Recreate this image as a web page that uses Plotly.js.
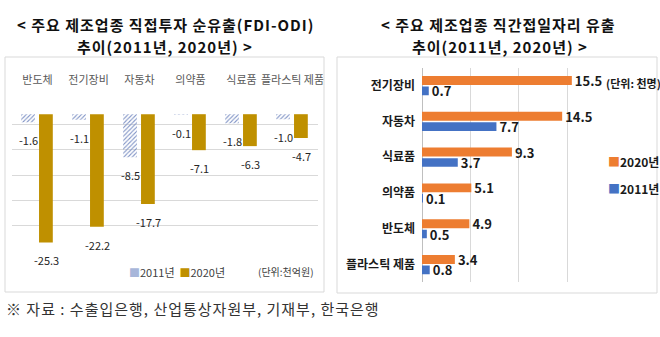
<!DOCTYPE html>
<html>
<head>
<meta charset="utf-8">
<script src="https://cdn.plot.ly/plotly-3.0.1.min.js"></script>
<style>
html,body{margin:0;padding:0;background:#fff;}
#chart{width:660px;height:337px;}
</style>
</head>
<body>
<div id="chart"></div>
<script>
// ---- Data ----
const fdiCategories = ['반도체', '전기장비', '자동차', '의약품', '식료품', '플라스틱 제품'];
const fdi2011 = [-1.6, -1.1, -8.5, -0.1, -1.8, -1.0];
const fdi2020 = [-25.3, -22.2, -17.7, -7.1, -6.3, -4.7];

const jobCategories = ['전기장비', '자동차', '식료품', '의약품', '반도체', '플라스틱 제품'];
const jobs2011 = [0.7, 7.7, 3.7, 0.1, 0.5, 0.8];
const jobs2020 = [15.5, 14.5, 9.3, 5.1, 4.9, 3.4];

const seriesNames = ['2011년', '2020년'];
const leftTitle = ['< 주요 제조업종 직접투자 순유출(FDI-ODI)', '추이(2011년, 2020년) >'];
const rightTitle = ['< 주요 제조업종 직간접일자리 유출', '추이(2011년, 2020년) >'];
const leftUnit = '(단위:천억원)';
const rightUnit = '(단위: 천명)';
const sourceNote = '※ 자료 : 수출입은행, 산업통상자원부, 기재부, 한국은행';

// ---- Layout helpers ----
const W = 660, H = 337;
const px = v => v / W;
const py = v => 1 - v / H;
const KR = '"Noto Sans CJK KR", "Noto Sans", sans-serif';
const NUM = '"Liberation Sans Narrow", "Noto Sans CJK KR", sans-serif';

const c2011L = '#a7b6da', c2011Lfg = '#8194c6';
const c2020L = '#bf9000';
const c2011R = '#4472c4', c2020R = '#ed7d31';

const traces = [
  {
    type: 'bar', x: fdiCategories, y: fdi2011, name: seriesNames[0],
    xaxis: 'x', yaxis: 'y', offset: -0.32, width: 0.27,
    marker: {color: c2011L, pattern: {shape: '/', fgcolor: c2011Lfg, size: 3, solidity: 0.35}},
    showlegend: false, hoverinfo: 'skip'
  },
  {
    type: 'bar', x: fdiCategories, y: fdi2020, name: seriesNames[1],
    xaxis: 'x', yaxis: 'y', offset: 0.03, width: 0.27,
    marker: {color: c2020L},
    showlegend: false, hoverinfo: 'skip'
  },
  {
    type: 'bar', orientation: 'h', y: jobCategories, x: jobs2020, name: seriesNames[1],
    xaxis: 'x2', yaxis: 'y2', offset: -0.265, width: 0.25,
    marker: {color: c2020R},
    text: jobs2020.map(v => v.toFixed(1)), textposition: 'outside', cliponaxis: false,
    constraintext: 'none',
    textfont: {family: NUM, size: 13, color: '#1a1a1a', weight: 'bold'},
    showlegend: false, hoverinfo: 'skip'
  },
  {
    type: 'bar', orientation: 'h', y: jobCategories, x: jobs2011, name: seriesNames[0],
    xaxis: 'x2', yaxis: 'y2', offset: 0.03, width: 0.24,
    marker: {color: c2011R},
    text: jobs2011.map(v => v.toFixed(1)), textposition: 'outside', cliponaxis: false,
    constraintext: 'none',
    textfont: {family: NUM, size: 13, color: '#1a1a1a', weight: 'bold'},
    showlegend: false, hoverinfo: 'skip'
  }
];

const annotations = [];
// left data labels
fdiCategories.forEach((c, i) => {
  annotations.push({x: c, y: fdi2011[i], xref: 'x', yref: 'y', text: fdi2011[i].toFixed(1),
    showarrow: false, xshift: -9, yshift: -18, font: {family: NUM, size: 11, color: '#262626'}});
  annotations.push({x: c, y: fdi2020[i], xref: 'x', yref: 'y', text: fdi2020[i].toFixed(1),
    showarrow: false, xshift: 9, yshift: -18, font: {family: NUM, size: 11, color: '#262626'}});
});
// titles
const titleFont = {family: KR, size: 15, color: '#111', weight: 'bold'};
const ls = t => '<span style="letter-spacing:1px">' + t + '</span>';
annotations.push({xref: 'paper', yref: 'paper', x: px(165), y: py(24), text: ls(leftTitle[0]), showarrow: false, font: titleFont, xanchor: 'center', yanchor: 'middle'});
annotations.push({xref: 'paper', yref: 'paper', x: px(165), y: py(46), text: ls(leftTitle[1]), showarrow: false, font: titleFont, xanchor: 'center', yanchor: 'middle'});
annotations.push({xref: 'paper', yref: 'paper', x: px(498), y: py(24), text: ls(rightTitle[0]), showarrow: false, font: titleFont, xanchor: 'center', yanchor: 'middle'});
annotations.push({xref: 'paper', yref: 'paper', x: px(500), y: py(46), text: ls(rightTitle[1]), showarrow: false, font: titleFont, xanchor: 'center', yanchor: 'middle'});
// left legend & unit
annotations.push({xref: 'paper', yref: 'paper', x: px(127), y: py(272), xanchor: 'left', yanchor: 'middle', showarrow: false,
  text: '<span style="color:' + c2011L + '">■</span>' + seriesNames[0] + '  <span style="color:' + c2020L + '">■</span>' + seriesNames[1],
  font: {family: KR, size: 11, color: '#404040'}});
annotations.push({xref: 'paper', yref: 'paper', x: px(316), y: py(271), xanchor: 'right', yanchor: 'middle', showarrow: false,
  text: leftUnit, font: {family: KR, size: 10, color: '#404040'}});
// right legend & unit
annotations.push({xref: 'paper', yref: 'paper', x: px(606), y: py(162), xanchor: 'left', yanchor: 'middle', showarrow: false,
  text: '<span style="color:' + c2020R + '">■</span>' + seriesNames[1], font: {family: KR, size: 12, color: '#1a1a1a', weight: 'bold'}});
annotations.push({xref: 'paper', yref: 'paper', x: px(606), y: py(188), xanchor: 'left', yanchor: 'middle', showarrow: false,
  text: '<span style="color:' + c2011R + '">■</span>' + seriesNames[0], font: {family: KR, size: 12, color: '#1a1a1a', weight: 'bold'}});
annotations.push({xref: 'paper', yref: 'paper', x: px(604), y: py(83), xanchor: 'left', yanchor: 'middle', showarrow: false,
  text: rightUnit, font: {family: KR, size: 11, color: '#1a1a1a', weight: 'bold'}});
// source
annotations.push({xref: 'paper', yref: 'paper', x: px(4), y: py(308), xanchor: 'left', yanchor: 'middle', showarrow: false,
  text: '<span style="letter-spacing:1px">' + sourceNote + '</span>', font: {family: KR, size: 15, color: '#333'}});

const layout = {
  width: W, height: H,
  margin: {l: 0, r: 0, t: 0, b: 0},
  paper_bgcolor: '#fff', plot_bgcolor: 'rgba(0,0,0,0)',
  barmode: 'overlay',
  showlegend: false,
  xaxis: {
    domain: [px(12), px(318)], anchor: 'y', side: 'top', type: 'category',
    showgrid: false, zeroline: false, showline: false, ticks: '',
    ticklabelstandoff: 12,
    tickfont: {family: KR, size: 11, color: '#595959'}, fixedrange: true
  },
  yaxis: {
    domain: [py(251), py(99)], anchor: 'x', range: [-27, 3],
    tick0: -27, dtick: 5, showgrid: true, gridcolor: '#d9d9d9', gridwidth: 1,
    zeroline: false, showticklabels: false, ticks: '', fixedrange: true
  },
  xaxis2: {
    domain: [px(422), px(596)], anchor: 'y2', range: [0, 18],
    tick0: 0, dtick: 5, showgrid: true, gridcolor: '#d9d9d9',
    zeroline: true, zerolinecolor: '#bfbfbf', zerolinewidth: 1,
    showticklabels: false, ticks: '', fixedrange: true
  },
  yaxis2: {
    domain: [py(282.4), py(67.6)], anchor: 'x2', type: 'category', autorange: 'reversed',
    showgrid: false, zeroline: false, showline: false, ticks: '',
    ticklabelstandoff: 6,
    tickfont: {family: KR, size: 12, color: '#1a1a1a', weight: 'bold'}, fixedrange: true
  },
  shapes: [
    {type: 'rect', xref: 'paper', yref: 'paper', x0: px(5), x1: px(324), y0: py(292), y1: py(57), line: {color: '#d9d9d9', width: 1}},
    {type: 'rect', xref: 'paper', yref: 'paper', x0: px(337), x1: px(657), y0: py(293), y1: py(57), line: {color: '#d9d9d9', width: 1}}
  ],
  annotations: annotations,
  font: {family: KR}
};

Plotly.newPlot('chart', traces, layout, {displayModeBar: false, staticPlot: true});
</script>
</body>
</html>
